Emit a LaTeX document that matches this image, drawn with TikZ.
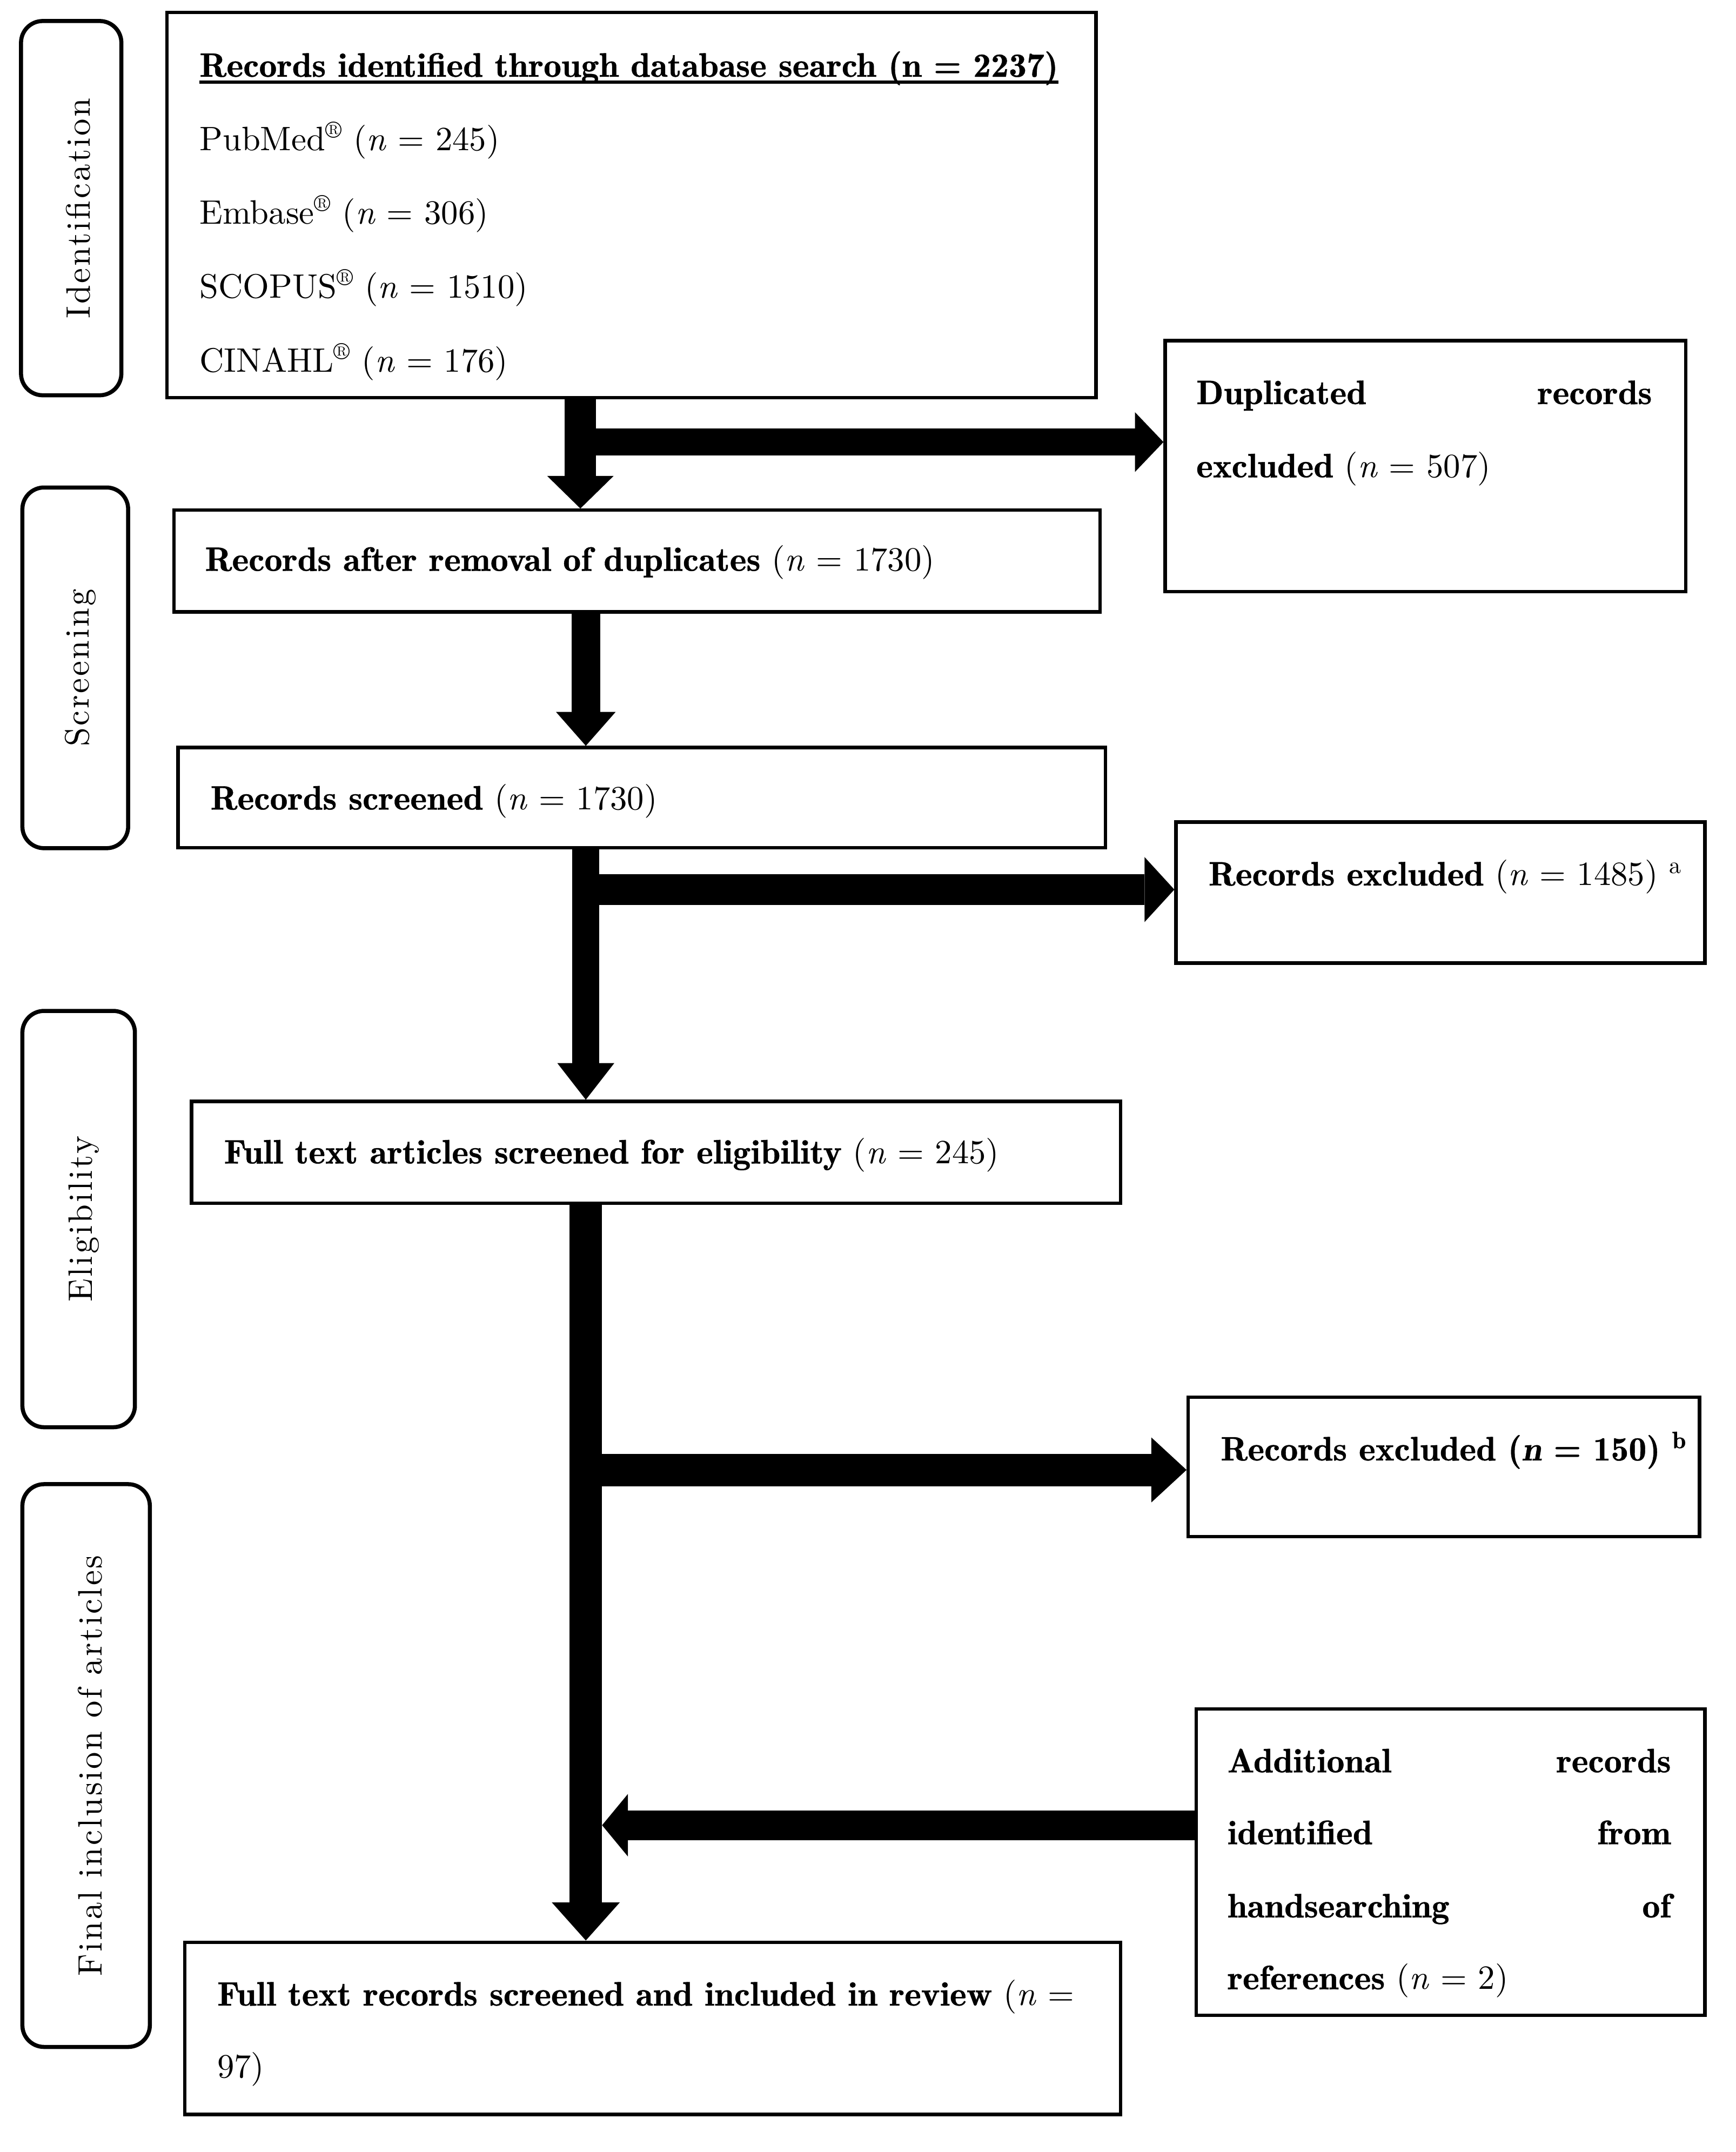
\documentclass[tikz,border=0pt]{standalone}
\usepackage{fontspec}
\setmainfont{lmroman10-regular.otf}[BoldFont=lmromandemi10-regular.otf,ItalicFont=lmroman10-italic.otf,BoldItalicFont=lmromandemi10-oblique.otf,BoldFeatures={FakeStretch=1.05,FakeBold=0.6},BoldItalicFeatures={FakeStretch=1.05,FakeBold=0.6}]
\usetikzlibrary{arrows.meta}
\newcommand\fs{\fontsize{25}{54.3}\selectfont}
\newcommand\reg{\textsuperscript{\textregistered}}
\tikzset{
  box/.style={draw, line width=2.5pt, anchor=north west, inner sep=0pt},
  side/.style={draw, line width=3pt, rounded corners=16pt, anchor=north west, inner sep=0pt},
  txt/.style={anchor=base west, inner sep=0pt, font=\fs},
  lab/.style={rotate=90, inner sep=0pt, font=\fs\addfontfeatures{LetterSpace=6}},
  fat/.style n args={3}{line width=#1, -{Triangle[width=#2, length=#3, line width=0pt]}},
}
\begin{document}
\begin{tikzpicture}[x=1pt,y=-1pt]
\useasboundingbox[fill=white] (0,0) rectangle (1280,1587);
% side labels
\node[side, minimum width=74pt, minimum height=276pt] (s1) at (14,14) {};
\node[side, minimum width=78pt, minimum height=266pt] (s2) at (15,358) {};
\node[side, minimum width=83pt, minimum height=307pt] (s3) at (15,744) {};
\node[side, minimum width=94pt, minimum height=415pt] (s4) at (15,1093) {};
\node[lab] (l1) at ([xshift=5pt]s1.center) {Identification};
\node[lab] (l2) at ([xshift=4pt]s2.center) {Screening};
\node[lab] (l3) at ([xshift=4pt]s3.center) {Eligibility};
\node[lab] (l4) at ([xshift=3pt]s4.center) {Final inclusion of articles};
% boxes
\node[box, minimum width=685pt, minimum height=284pt] (b1) at (122,8) {};
\node[box, minimum width=384pt, minimum height=185pt] (dup) at (858,250) {};
\node[box, minimum width=683pt, minimum height=75pt] (b2) at (127,375) {};
\node[box, minimum width=684pt, minimum height=74pt] (b3) at (130,550) {};
\node[box, minimum width=390pt, minimum height=104pt] (ex1) at (866,605) {};
\node[box, minimum width=685pt, minimum height=75pt] (b4) at (140,811) {};
\node[box, minimum width=377pt, minimum height=103pt] (ex2) at (875,1029) {};
\node[box, minimum width=375pt, minimum height=226pt] (add) at (881,1259) {};
\node[box, minimum width=690pt, minimum height=127pt] (b5) at (135,1431) {};
% texts
\node[txt] (t1) at (147,56.6) {\bfseries Records identified through database search (n = 2237)};
\draw[line width=2.2pt] ([yshift=-4pt]t1.base west) -- ([yshift=-4pt]t1.base east);
\node[txt] (t2) at (147,111) {PubMed\reg{} (\textit{n} = 245)};
\node[txt] (t3) at (147,165.2) {Embase\reg{} (\textit{n} = 306)};
\node[txt] (t4) at (147,219.7) {SCOPUS\reg{} (\textit{n} = 1510)};
\node[txt] (t5) at (147,274.2) {CINAHL\reg{} (\textit{n} = 176)};
\node[txt] (d1) at (882,298) {\makebox[336pt][l]{\bfseries Duplicated\hfill records}};
\node[txt] (d2) at (882,352) {\textbf{excluded} (\textit{n} = 507)};
\node[txt] (t6) at (151,421) {\textbf{Records after removal of duplicates} (\textit{n} = 1730)};
\node[txt] (t7) at (155,597) {\textbf{Records screened} (\textit{n} = 1730)};
\node[txt] (t8) at (891,653) {\textbf{Records excluded} (\textit{n} = 1485) \textsuperscript{a}};
\node[txt] (t9) at (165,858) {\textbf{Full text articles screened for eligibility} (\textit{n} = 245)};
\node[txt] (t10) at (900,1077) {\bfseries Records excluded (\textit{n} = 150) \textsuperscript{b}};
\node[txt] (a1) at (905,1307) {\makebox[327pt][l]{\bfseries Additional\hfill records}};
\node[txt] (a2) at (905,1360) {\makebox[327pt][l]{\bfseries identified\hfill from}};
\node[txt] (a3) at (905,1414) {\makebox[327pt][l]{\bfseries handsearching\hfill of}};
\node[txt] (a4) at (905,1467) {\textbf{references} (\textit{n} = 2)};
\node[txt] (f1) at (160,1479) {\textbf{Full text records screened and included in review} (\textit{n} =};
\node[txt] (f2) at (160,1532) {97)};
% trunk positions
\coordinate (k1) at (428,0);
\coordinate (k2) at (432,0);
\coordinate (j1) at (428,326);
\coordinate (j2) at (432,656);
\coordinate (j3) at (432,1084);
\coordinate (j4) at (444,1346);
% arrows
\draw[fat={23pt}{49pt}{24pt}] (b1.south -| k1) -- (b2.north -| k1);
\draw[fat={20pt}{44pt}{21pt}] (j1) -- (j1 -| dup.west);
\draw[fat={21pt}{44pt}{25pt}] (b2.south -| k2) -- (b3.north -| k2);
\draw[fat={20pt}{42pt}{27pt}] (b3.south -| k2) -- (b4.north -| k2);
\draw[fat={23pt}{48pt}{22pt}] (j2) -- (j2 -| ex1.west);
\draw[fat={24pt}{50pt}{28pt}] (b4.south -| k2) -- (b5.north -| k2);
\draw[fat={24pt}{48pt}{26pt}] (j3) -- (j3 -| ex2.west);
\draw[fat={22pt}{46pt}{19pt}] (j4 -| add.west) -- (j4);
\end{tikzpicture}
\end{document}
